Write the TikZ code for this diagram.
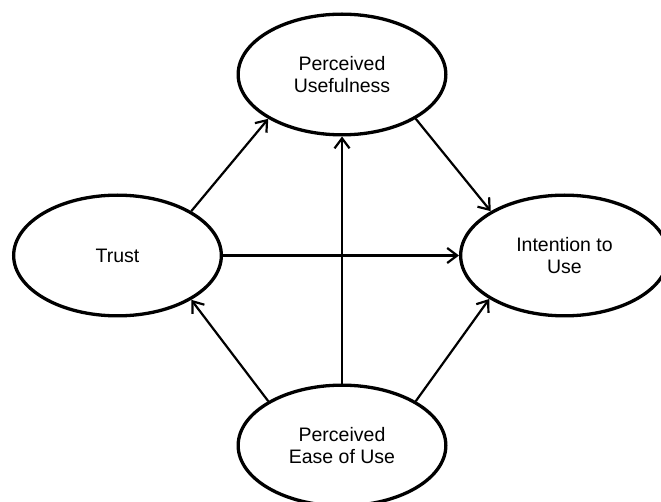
\documentclass[tikz,border=0pt]{standalone}
\usepackage{fontspec}
\setmainfont{Liberation Sans}
\usetikzlibrary{shapes.geometric,arrows.meta}
\begin{document}
\begin{tikzpicture}[x=1pt,y=1pt,
  construct/.style={ellipse,draw=black,line width=3.3pt,minimum width=207.7pt,minimum height=120.7pt,inner sep=0pt,align=center,font=\fontsize{19.5}{22.5}\selectfont},
  link/.style={line width=2.2pt,-{Straight Barb[length=10pt,width=15pt]}}]
\useasboundingbox (0,0) rectangle (661,501);
\clip (0,0) rectangle (661,501);
\fill[white] (0,0) rectangle (661,501);
\node[construct] (pu) at (342,426.5) {Perceived\\Usefulness};
\node[construct] (trust) at (117.5,245.5) {Trust};
\node[construct] (itu) at (564.5,245.5) {Intention to\\Use};
\node[construct] (peu) at (342,55.5) {Perceived\\Ease of Use};
\draw[link] (trust.31) -- (pu.211);
\draw[link] (pu.-31) -- (itu.149);
\draw[link] (trust.east) -- (itu.west);
\draw[link] (peu.north) -- (pu.south);
\draw[link] (peu.149) -- (trust.-31);
\draw[link] (peu.31) -- (itu.210);
\end{tikzpicture}
\end{document}
